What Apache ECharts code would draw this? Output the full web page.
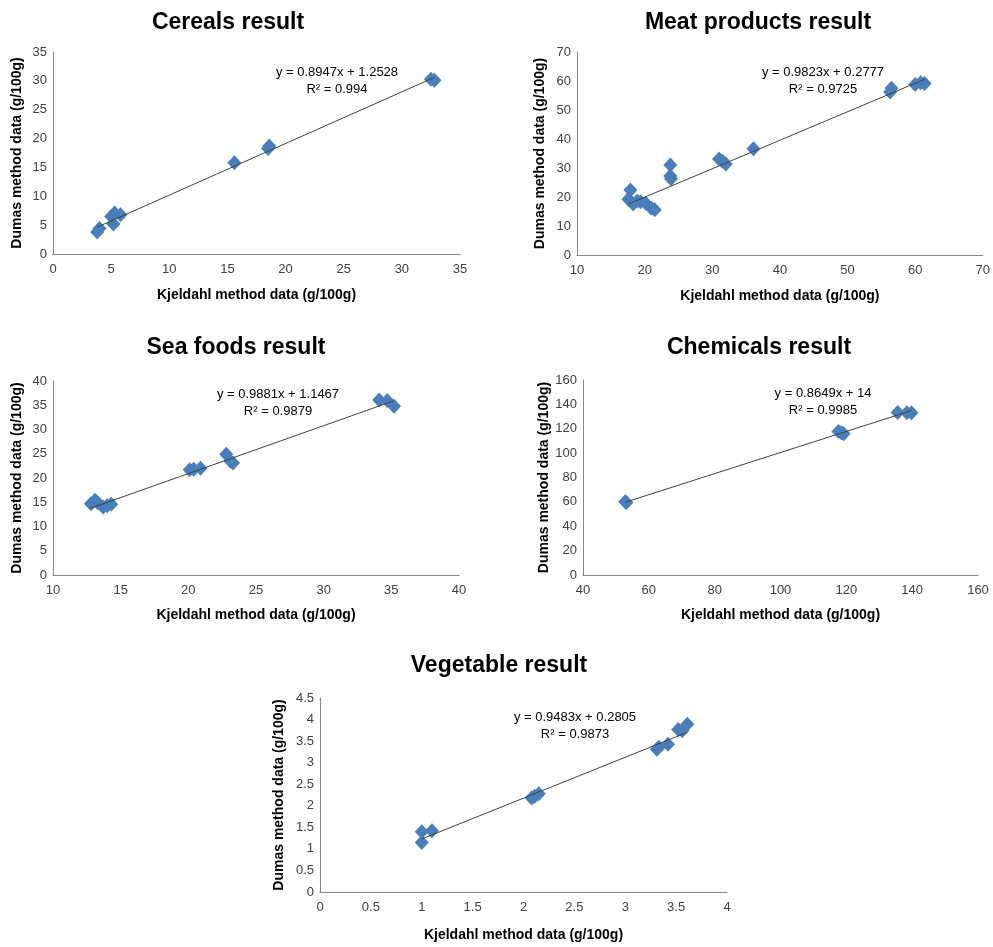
<!DOCTYPE html>
<html>
<head>
<meta charset="utf-8">
<script src="https://cdn.jsdelivr.net/npm/echarts@6/dist/echarts.min.js"></script>
<style>html,body{margin:0;padding:0;background:#fff;}#c{width:993px;height:947px;}</style>
</head>
<body>
<div id="c"></div>
<script>
// ---- data (Kjeldahl x, Dumas y) ----
const cerealsData = [[3.8,3.8],[4.0,4.4],[5.0,6.5],[5.2,5.2],[5.3,7.1],[5.8,6.8],[15.6,15.8],[18.5,18.3],[18.6,18.7],[32.5,30.3],[32.8,30.1]];
const meatData = [[17.6,19.2],[17.9,22.4],[18.3,17.6],[18.9,18.6],[19.4,18.4],[20.2,17.8],[21.0,16.1],[21.5,15.6],[23.8,31.0],[23.8,27.2],[23.9,26.3],[31.0,33.1],[31.5,32.3],[32.0,31.4],[36.1,36.6],[56.3,56.2],[56.5,57.5],[60.0,58.8],[60.8,59.4],[61.4,59.1]];
const seaData = [[12.8,14.7],[13.1,15.4],[13.3,14.9],[13.7,14.0],[14.0,14.3],[14.3,14.6],[20.1,21.7],[20.4,21.8],[20.9,22.0],[22.8,24.9],[23.1,23.5],[23.3,23.1],[34.1,36.1],[34.7,36.0],[35.2,34.8]];
const chemData = [[52.8,60.2],[53.2,59.5],[117.6,117.8],[118.5,116.8],[119.2,116.0],[135.6,133.3],[138.4,133.2],[139.8,133.2]];
const vegData = [[1.0,1.4],[1.0,1.15],[1.1,1.42],[2.08,2.18],[2.11,2.22],[2.15,2.28],[3.31,3.31],[3.33,3.36],[3.42,3.43],[3.52,3.77],[3.56,3.74],[3.61,3.89]];

const titles = ['Cereals result','Meat products result','Sea foods result','Chemicals result','Vegetable result'];
const slopes = [0.8947, 0.9823, 0.9881, 0.8649, 0.9483];
const intercepts = [1.2528, 0.2777, 1.1467, 14, 0.2805];
const eqTexts = ['y = 0.8947x + 1.2528','y = 0.9823x + 0.2777','y = 0.9881x + 1.1467','y = 0.8649x + 14','y = 0.9483x + 0.2805'];
const r2Texts = ['R² = 0.994','R² = 0.9725','R² = 0.9879','R² = 0.9985','R² = 0.9873'];
const xRanges = [[0,35,5],[10,70,10],[10,40,5],[40,160,20],[0,4,0.5]];
const yRanges = [[0,35,5],[0,70,10],[0,40,5],[0,160,20],[0,4.5,0.5]];
const xName = 'Kjeldahl method data (g/100g)';
const yName = 'Dumas method data (g/100g)';

// ---- layout ----
const grids = [
  {left:53, top:52, width:407, height:202},
  {left:577, top:52, width:406, height:203},
  {left:53, top:381, width:406, height:194},
  {left:583, top:380, width:395, height:195},
  {left:320, top:698, width:407, height:194}
];
const titlePos = [[223,6],[753,6],[231,331],[754,331],[494,649]];
const eqPos = [[337,72],[823,72],[278,394],[823,393],[575,717]];
const yNameGap = [29,30,29,31,34];
const xNameGap = [34,34,33,33,36];

const allData = [cerealsData, meatData, seaData, chemData, vegData];
const FONT = 'Liberation Sans';
const blue = '#4A7EBB';

const option = {
  animation:false,
  backgroundColor:'#fff',
  title: titles.map((t,i)=>({
    text:t, left:titlePos[i][0], top:titlePos[i][1], textAlign:'center',
    textStyle:{fontFamily:FONT, fontWeight:'bold', fontSize:23, color:'#000'}
  })),
  grid: grids.map(g=>Object.assign({containLabel:false}, g)),
  xAxis: grids.map((g,i)=>({
    type:'value', gridIndex:i, min:xRanges[i][0], max:xRanges[i][1], interval:xRanges[i][2],
    name:xName, nameLocation:'middle', nameGap:xNameGap[i],
    nameTextStyle:{fontFamily:FONT, fontWeight:'bold', fontSize:14, color:'#000'},
    axisLine:{show:true, lineStyle:{color:'#868686', width:1}},
    axisTick:{show:false}, splitLine:{show:false},
    axisLabel:{fontFamily:FONT, fontSize:13, color:'#404040', margin:9}
  })),
  yAxis: grids.map((g,i)=>({
    type:'value', gridIndex:i, min:yRanges[i][0], max:yRanges[i][1], interval:yRanges[i][2],
    name:yName, nameLocation:'middle', nameGap:yNameGap[i], nameRotate:90,
    nameTextStyle:{fontFamily:FONT, fontWeight:'bold', fontSize:14, color:'#000'},
    axisLine:{show:true, lineStyle:{color:'#868686', width:1}},
    axisTick:{show:false}, splitLine:{show:false},
    axisLabel:{fontFamily:FONT, fontSize:13, color:'#404040', margin:6}
  })),
  series: [],
  graphic: []
};

allData.forEach((d,i)=>{
  const xs = d.map(p=>p[0]);
  const x0 = Math.min(...xs), x1 = Math.max(...xs);
  option.series.push({
    type:'line', xAxisIndex:i, yAxisIndex:i, showSymbol:false, silent:true,
    data:[[x0, slopes[i]*x0+intercepts[i]],[x1, slopes[i]*x1+intercepts[i]]],
    lineStyle:{color:'#404040', width:1}, z:3
  });
  option.series.push({
    type:'scatter', xAxisIndex:i, yAxisIndex:i, data:d,
    symbol:'diamond', symbolSize:[14,15],
    itemStyle:{color:blue, opacity:1}, z:2
  });
  option.graphic.push({
    type:'text', x:eqPos[i][0], y:eqPos[i][1],
    style:{text:eqTexts[i], fill:'#000', font:'13px '+FONT, textAlign:'center', textVerticalAlign:'middle'}
  });
  option.graphic.push({
    type:'text', x:eqPos[i][0], y:eqPos[i][1]+17,
    style:{text:r2Texts[i], fill:'#000', font:'13px '+FONT, textAlign:'center', textVerticalAlign:'middle'}
  });
});

const chart = echarts.init(document.getElementById('c'), null, {renderer:'canvas'});
chart.setOption(option);
</script>
</body>
</html>
